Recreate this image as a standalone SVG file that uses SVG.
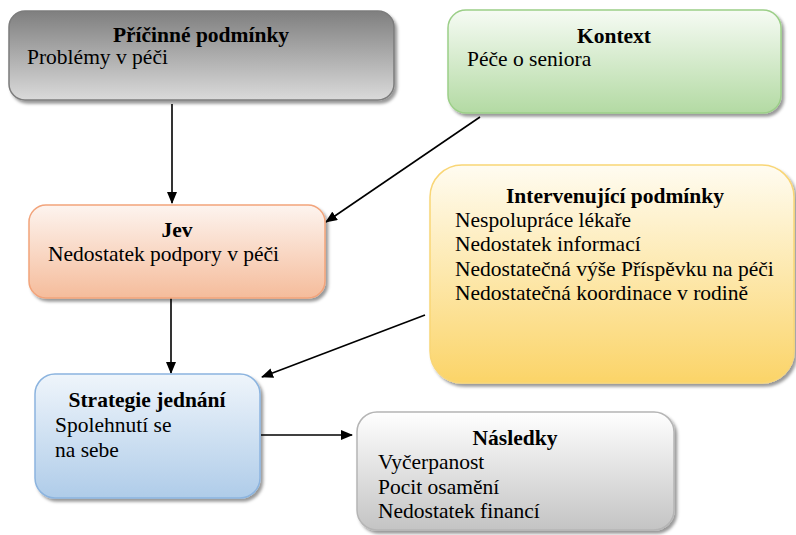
<svg xmlns="http://www.w3.org/2000/svg" width="796" height="535" viewBox="0 0 796 535">
<defs>
<linearGradient id="gGray" x1="0" y1="0" x2="0" y2="1"><stop offset="0" stop-color="#7f7f7f"/><stop offset="1" stop-color="#dadada"/></linearGradient>
<linearGradient id="gGreen" x1="0" y1="0" x2="0" y2="1"><stop offset="0" stop-color="#f6fbf4"/><stop offset="1" stop-color="#b3daa3"/></linearGradient>
<linearGradient id="gOrange" x1="0" y1="0" x2="0" y2="1"><stop offset="0" stop-color="#fdf4ef"/><stop offset="1" stop-color="#f5bc9b"/></linearGradient>
<linearGradient id="gYellow" x1="0" y1="0" x2="0" y2="1"><stop offset="0" stop-color="#fffcf1"/><stop offset="1" stop-color="#fbd468"/></linearGradient>
<linearGradient id="gBlue" x1="0" y1="0" x2="0" y2="1"><stop offset="0" stop-color="#eff5fb"/><stop offset="1" stop-color="#afcce9"/></linearGradient>
<linearGradient id="gLight" x1="0" y1="0" x2="0" y2="1"><stop offset="0" stop-color="#ffffff"/><stop offset="1" stop-color="#c4c4c4"/></linearGradient>
<filter id="sh" x="-10%" y="-10%" width="125%" height="130%"><feDropShadow dx="2.5" dy="3" stdDeviation="1.5" flood-color="#000" flood-opacity="0.4"/></filter>
<marker id="ah" markerWidth="12" markerHeight="10" refX="11" refY="5" orient="auto" markerUnits="userSpaceOnUse"><path d="M0,0 L12,5 L0,10 z" fill="#000"/></marker>
<style>
.box{stroke-width:1.5;filter:url(#sh)}
.t{font-family:"Liberation Serif","Times New Roman",serif;font-size:21.5px;fill:#000}
.b{font-weight:bold;text-anchor:middle}
.c{stroke:#000;stroke-width:1.6;fill:none;marker-end:url(#ah)}
</style>
</defs>
<g id="connectors">
<line class="c" x1="172" y1="104" x2="172" y2="203"/>
<line class="c" x1="480" y1="117" x2="326" y2="222"/>
<line class="c" x1="171" y1="298" x2="171" y2="373"/>
<line class="c" x1="425" y1="315" x2="262" y2="377"/>
<line class="c" x1="261" y1="435" x2="352" y2="435"/>
</g>
<g id="pricinne">
<rect class="box" x="9" y="11" width="385" height="89" rx="16" fill="url(#gGray)" stroke="#7c7c7c"/>
<text class="t b" x="201" y="42">Příčinné podmínky</text>
<text class="t" x="27" y="64">Problémy v péči</text>
</g>
<g id="kontext">
<rect class="box" x="448" y="10" width="333" height="103" rx="18" fill="url(#gGreen)" stroke="#9ccf88"/>
<text class="t b" x="614" y="43">Kontext</text>
<text class="t" x="467" y="66">Péče o seniora</text>
</g>
<g id="jev">
<rect class="box" x="29" y="205" width="296" height="93" rx="17" fill="url(#gOrange)" stroke="#f2a47b"/>
<text class="t b" x="177" y="237">Jev</text>
<text class="t" x="48" y="261">Nedostatek podpory v péči</text>
</g>
<g id="intervenujici">
<rect class="box" x="430" y="165" width="364" height="218" rx="32" fill="url(#gYellow)" stroke="#f9d676"/>
<text class="t b" x="615" y="203">Intervenující podmínky</text>
<text class="t" x="455" y="227">Nespolupráce lékaře</text>
<text class="t" x="455" y="251">Nedostatek informací</text>
<text class="t" x="455" y="276">Nedostatečná výše Příspěvku na péči</text>
<text class="t" x="455" y="300">Nedostatečná koordinace v rodině</text>
</g>
<g id="strategie">
<rect class="box" x="35" y="374" width="225" height="124" rx="20" fill="url(#gBlue)" stroke="#8cb4df"/>
<text class="t b" x="147" y="407">Strategie jednání</text>
<text class="t" x="55" y="432">Spolehnutí se</text>
<text class="t" x="55" y="457">na sebe</text>
</g>
<g id="nasledky">
<rect class="box" x="357" y="412" width="317" height="118" rx="20" fill="url(#gLight)" stroke="#b5b5b5"/>
<text class="t b" x="515" y="445">Následky</text>
<text class="t" x="378" y="469">Vyčerpanost</text>
<text class="t" x="378" y="494">Pocit osamění</text>
<text class="t" x="378" y="518">Nedostatek financí</text>
</g>
</svg>
